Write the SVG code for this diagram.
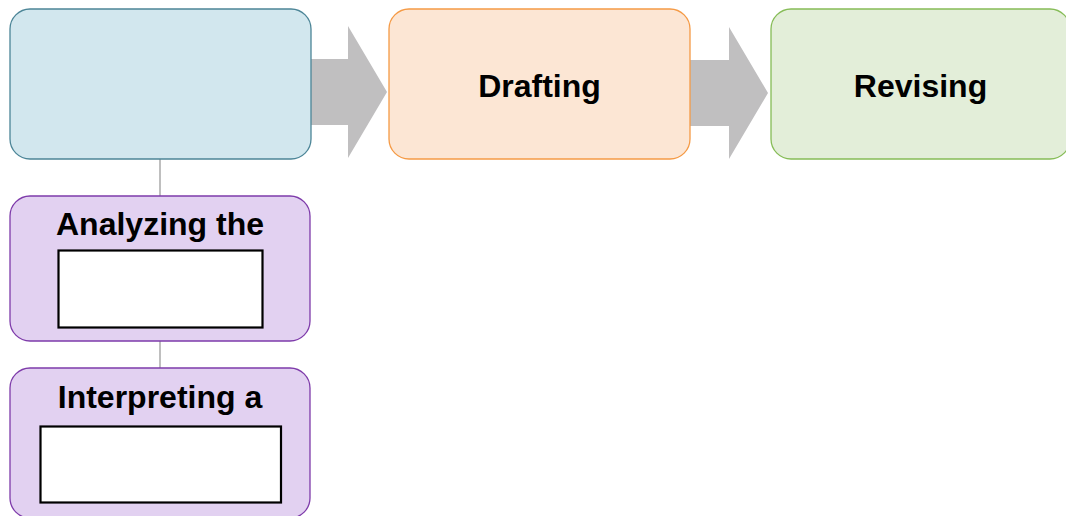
<svg xmlns="http://www.w3.org/2000/svg" width="1066" height="516" viewBox="0 0 1066 516">
  <style>
    .lbl { font-family: "Liberation Sans", Arial, sans-serif; font-weight: bold; font-size: 32px; fill: #000; text-anchor: middle; }
    .blue { fill: #D2E7EE; stroke: #4C8597; stroke-width: 1.3; }
    .orange { fill: #FCE6D4; stroke: #F59A45; stroke-width: 1.3; }
    .green { fill: #E3EED9; stroke: #86BC57; stroke-width: 1.3; }
    .purple { fill: #E2D1F1; stroke: #7E3BAA; stroke-width: 1.3; }
    .blank { fill: #FFFFFF; stroke: #000; stroke-width: 2.2; }
    .link { stroke: #BFBFBF; stroke-width: 2; fill: none; }
    .flow { fill: #C0BFC0; }
  </style>

  <!-- connectors -->
  <g id="connectors">
    <line class="link" x1="160" y1="159" x2="160" y2="196"/>
    <line class="link" x1="160" y1="341" x2="160" y2="368"/>
    <polygon class="flow" points="311,59 348,59 348,26 387,92 348,158 348,125 311,125"/>
    <polygon class="flow" points="690,60 729,60 729,27 768,93 729,159 729,126 690,126"/>
  </g>

  <g id="node-planning">
    <rect class="blue" x="10" y="9" width="301" height="150" rx="20" ry="20"/>
  </g>

  <g id="node-drafting">
    <rect class="orange" x="389" y="9" width="301" height="150" rx="20" ry="20"/>
    <text class="lbl" x="539.5" y="97">Drafting</text>
  </g>

  <g id="node-revising">
    <rect class="green" x="771" y="9" width="299" height="150" rx="20" ry="20"/>
    <text class="lbl" x="920.5" y="97">Revising</text>
  </g>

  <g id="node-analyzing">
    <rect class="purple" x="10" y="196" width="300" height="145" rx="20" ry="20"/>
    <text class="lbl" x="160" y="235">Analyzing the</text>
    <rect class="blank" x="58.5" y="250.5" width="204" height="77"/>
  </g>

  <g id="node-interpreting">
    <rect class="purple" x="10" y="368" width="300" height="150" rx="20" ry="20"/>
    <text class="lbl" x="160" y="408">Interpreting a</text>
    <rect class="blank" x="40.5" y="426.5" width="240.5" height="76"/>
  </g>
</svg>
